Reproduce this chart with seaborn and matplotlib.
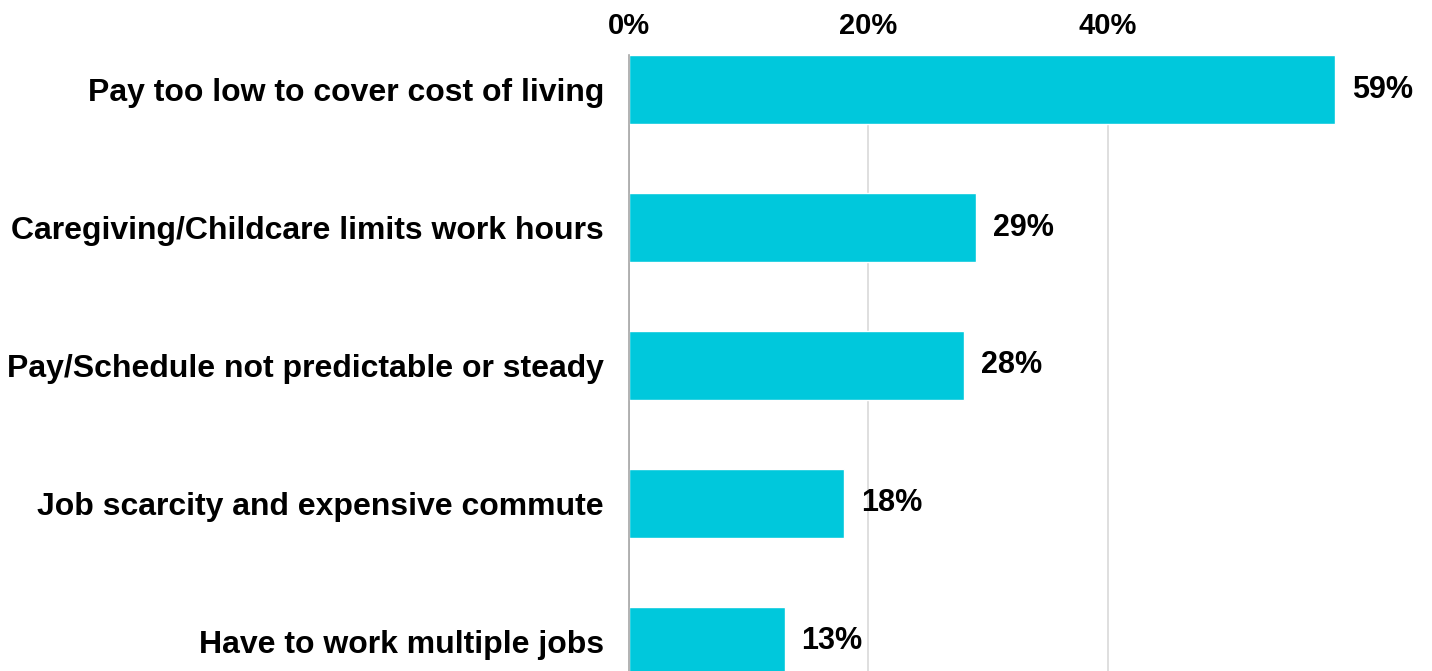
import matplotlib
matplotlib.use("Agg")
import matplotlib.pyplot as plt
import seaborn as sns
import pandas as pd

# chart data
reasons = [
    "Pay too low to cover cost of living",
    "Caregiving/Childcare limits work hours",
    "Pay/Schedule not predictable or steady",
    "Job scarcity and expensive commute",
    "Have to work multiple jobs",
]
shares = [59, 29, 28, 18, 13]
tick_values = [0, 20, 40]
tick_labels = ["0%", "20%", "40%"]

df = pd.DataFrame({"reason": reasons, "share": shares})

sns.set_theme(style="white")
plt.rcParams['font.family'] = ['Liberation Sans', 'DejaVu Sans']

fig = plt.figure(figsize=(14.32, 6.71), dpi=100)
ax = fig.add_axes([0.4392, 0.0, 0.5015, 0.918])

sns.barplot(data=df, x="share", y="reason", orient="h", color="#00C8DC",
            width=0.495, saturation=1, ax=ax)

ax.set_xlim(0, 60)
ax.set_ylim(4.214, -0.25)
ax.set_xticks(tick_values)
ax.set_xticklabels(tick_labels)
ax.xaxis.tick_top()
ax.tick_params(axis="x", length=0, pad=11, labelsize=21, labelcolor="black")
ax.tick_params(axis="y", length=0, pad=18, labelsize=23, labelcolor="black")
for lbl in ax.get_xticklabels() + ax.get_yticklabels():
    lbl.set_fontweight("bold")

ax.set_xlabel("")
ax.set_ylabel("")
ax.xaxis.grid(True, color="#D9D9D9", linewidth=1.2)
ax.set_axisbelow(True)
for side in ["top", "right", "bottom"]:
    ax.spines[side].set_visible(False)
ax.spines["left"].set_color("#A6A6A6")
ax.spines["left"].set_linewidth(1.2)

# value labels at bar ends
bl = ax.bar_label(ax.containers[0], labels=[f"{v}%" for v in shares], padding=12,
                  fontsize=22, fontweight="bold", color="black")

fig.savefig("out.png", dpi=100)
